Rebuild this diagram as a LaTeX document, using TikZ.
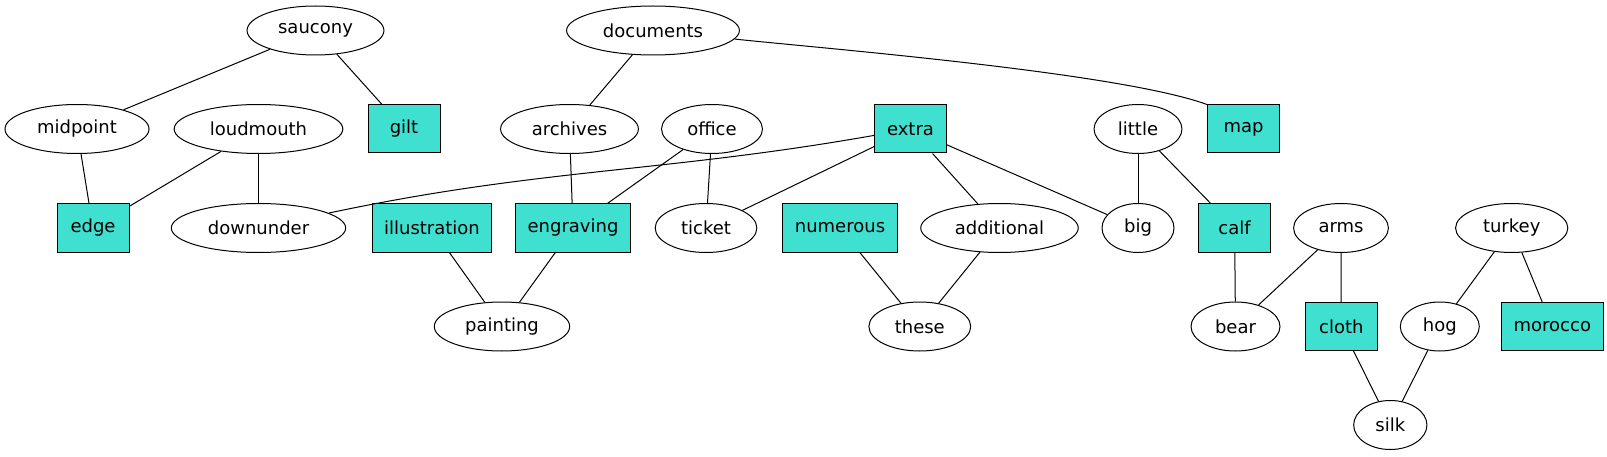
\documentclass[tikz,border=0pt]{standalone}
\usepackage{fontspec}
\setmainfont{DejaVu Sans}
\usetikzlibrary{shapes.geometric}

\definecolor{turq}{HTML}{40E0D0}

\tikzset{
  every node/.style={font=\fontsize{18}{22}\selectfont},
  ell/.style={draw, ellipse, line width=1pt, minimum width=72pt, minimum height=49pt, inner xsep=11pt, inner ysep=0pt},
  box/.style={draw, rectangle, fill=turq, line width=1pt, minimum width=72pt, minimum height=48pt, inner xsep=12pt},
  link/.style={line width=1pt}
}

\begin{document}
\begin{tikzpicture}[x=1pt,y=1pt]
      \useasboundingbox (0,0) rectangle (1607,456);

      \node[ell] (saucony) at (315.5,425.5) {saucony};
      \node[ell] (documents) at (653,425.5) {documents};

      \node[ell] (midpoint) at (77,327) {midpoint};
      \node[ell] (loudmouth) at (258.5,327) {loudmouth};
      \node[box] (gilt) at (404,327) {gilt};
      \node[ell] (archives) at (569.5,327) {archives};
      \node[ell] (office) at (712,327) {office};
      \node[box] (extra) at (910.5,327) {extra};
      \node[ell] (little) at (1138,327) {little};
      \node[box] (map) at (1243.5,327) {map};

      \node[box] (edge) at (93,228) {edge};
      \node[ell] (downunder) at (258.5,228) {downunder};
      \node[box] (illustration) at (432,228) {illustration};
      \node[box] (engraving) at (573,228) {engraving};
      \node[ell] (ticket) at (706,228) {ticket};
      \node[box] (numerous) at (840,228) {numerous};
      \node[ell] (additional) at (999.5,228) {additional};
      \node[ell] (big) at (1138,228) {big};
      \node[box] (calf) at (1234.6,228) {calf};
      \node[ell] (arms) at (1341,228) {arms};
      \node[ell] (turkey) at (1511.7,228) {turkey};

      \node[ell] (painting) at (502,129.5) {painting};
      \node[ell] (these) at (919.8,129.5) {these};
      \node[ell] (bear) at (1235.5,129.5) {bear};
      \node[box] (cloth) at (1341.3,129.5) {cloth};
      \node[ell] (hog) at (1439.8,129.5) {hog};
      \node[box] (morocco) at (1552.3,129.5) {morocco};

      \node[ell] (silk) at (1390.3,31) {silk};

      \draw[link] (saucony) -- (midpoint);
      \draw[link] (saucony) -- (gilt);
      \draw[link] (documents) -- (archives);
      \draw[link] (documents) to[out=-6,in=160,looseness=0.5] (map.north west);

      \draw[link] (midpoint) -- (edge);
      \draw[link] (loudmouth) -- (edge);
      \draw[link] (loudmouth) -- (downunder);
      \draw[link] (archives) -- (engraving);
      \draw[link] (office) -- (engraving);
      \draw[link] (office) -- (ticket);
      \draw[link] (extra) to[out=190,in=12] (downunder);
      \draw[link] (extra) -- (ticket);
      \draw[link] (extra) -- (additional);
      \draw[link] (extra) -- (big);
      \draw[link] (little) -- (big);
      \draw[link] (little) -- (calf);

      \draw[link] (illustration) -- (painting);
      \draw[link] (engraving) -- (painting);
      \draw[link] (numerous) -- (these);
      \draw[link] (additional) -- (these);
      \draw[link] (calf) -- (bear);
      \draw[link] (arms) -- (bear);
      \draw[link] (arms) -- (cloth);
      \draw[link] (turkey) -- (hog);
      \draw[link] (turkey) -- (morocco);

      \draw[link] (cloth) -- (silk);
      \draw[link] (hog) -- (silk);
\end{tikzpicture}
\end{document}
